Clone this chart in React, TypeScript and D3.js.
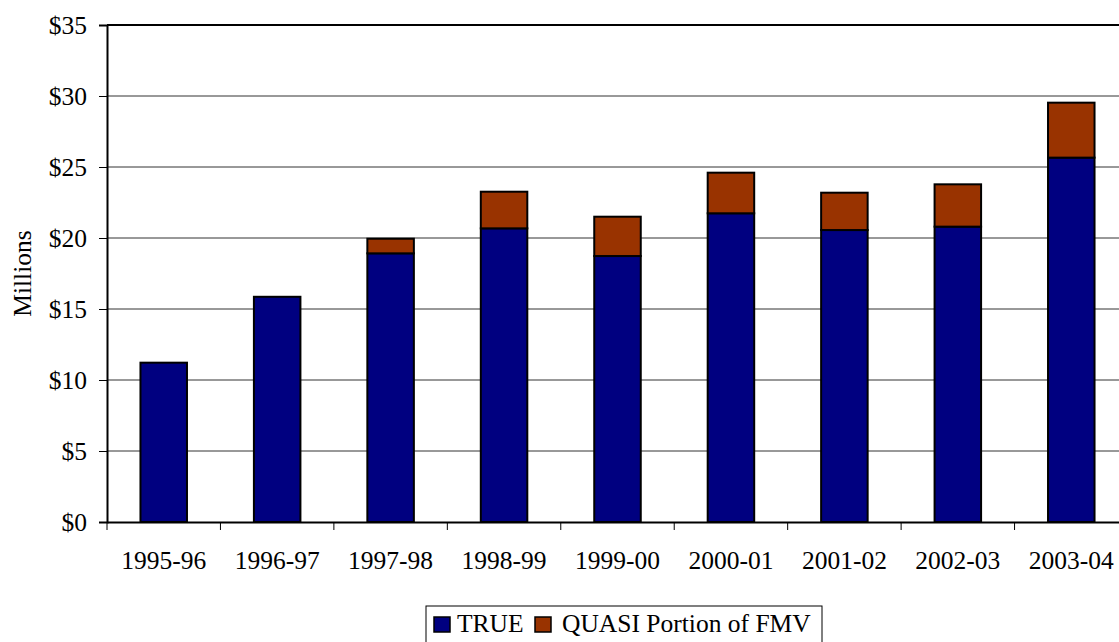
import React from "react";
import * as d3 from "d3";

const years = ["1995-96", "1996-97", "1997-98", "1998-99", "1999-00", "2000-01", "2001-02", "2002-03", "2003-04"];
const trueVals = [11.22, 15.86, 18.92, 20.68, 18.73, 21.74, 20.56, 20.8, 25.66];
const quasiVals = [0, 0, 1.03, 2.58, 2.77, 2.86, 2.63, 2.98, 3.87];
const yTicks = [0, 5, 10, 15, 20, 25, 30, 35];
const seriesNames = ["TRUE", "QUASI Portion of FMV"];
const colors = ["#000080", "#993300"];

const W = 1119;
const H = 642;
const margin = { top: 25, left: 107, bottom: 522 };
const plotRight = 1128;
const font = "Liberation Serif, DejaVu Serif, serif";
const fs = "25.5px";

export default function App() {
  const svgRef = React.useRef<SVGSVGElement>(null);

  React.useEffect(() => {
    const svg = d3.select(svgRef.current);
    svg.selectAll("*").remove();

    const y = d3.scaleLinear().domain([0, 35]).range([margin.bottom, margin.top]);

    const band = d3.scaleBand().domain(years).range([margin.left, plotRight]).paddingInner(0).paddingOuter(0);
    const bars = d3.scaleBand().domain(years).range([margin.left, plotRight]).paddingInner(0.59).paddingOuter(0.295);

    const rows = years.map((yr, i) => ({ year: yr, TRUE: trueVals[i], QUASI: quasiVals[i] }));
    const stacked = d3.stack<any>().keys(["TRUE", "QUASI"])(rows);

    // gridlines
    svg.append("g")
      .selectAll("line")
      .data(yTicks.filter(t => t > 0 && t < 35))
      .join("line")
      .attr("x1", margin.left)
      .attr("x2", plotRight)
      .attr("y1", d => y(d))
      .attr("y2", d => y(d))
      .attr("stroke", "#333")
      .attr("stroke-width", 1);

    // top border
    svg.append("line")
      .attr("x1", margin.left).attr("x2", plotRight)
      .attr("y1", y(35)).attr("y2", y(35))
      .attr("stroke", "#000").attr("stroke-width", 2);

    // bars
    stacked.forEach((s, si) => {
      svg.append("g")
        .selectAll("rect")
        .data(s.filter(d => d[1] - d[0] > 0))
        .join("rect")
        .attr("x", d => bars(d.data.year)!)
        .attr("width", bars.bandwidth())
        .attr("y", d => y(d[1]))
        .attr("height", d => y(d[0]) - y(d[1]))
        .attr("fill", colors[si])
        .attr("stroke", "#000")
        .attr("stroke-width", 2);
    });

    // y axis
    const yAxis = svg.append("g")
      .attr("transform", `translate(${margin.left},0)`)
      .call(d3.axisLeft(y).tickValues(yTicks).tickFormat(d => `$${d}`).tickSize(8).tickPadding(12));
    yAxis.attr("font-family", null).attr("font-size", null);
    yAxis.select(".domain").attr("stroke-width", 2);
    yAxis.selectAll(".tick line").attr("stroke-width", 1);
    yAxis.selectAll("text").style("font-family", font).style("font-size", fs).attr("fill", "#000");

    // x axis
    const xAxis = svg.append("g")
      .attr("transform", `translate(0,${y(0)})`)
      .call(d3.axisBottom(band).tickSize(0).tickPadding(29));
    xAxis.attr("font-family", null).attr("font-size", null);
    xAxis.select(".domain").attr("stroke-width", 2);
    xAxis.selectAll("text").style("font-family", font).style("font-size", fs).attr("fill", "#000");

    svg.append("g")
      .selectAll("line")
      .data(years.map(yr => band(yr)!))
      .join("line")
      .attr("x1", d => d).attr("x2", d => d)
      .attr("y1", y(0)).attr("y2", y(0) + 8)
      .attr("stroke", "#000");

    // y label
    svg.append("text")
      .attr("transform", `translate(31,${(y(0) + y(35)) / 2}) rotate(-90)`)
      .attr("text-anchor", "middle")
      .style("font-family", font)
      .style("font-size", fs)
      .text("Millions");

    // legend
    const lg = svg.append("g").attr("transform", "translate(426,606)");
    lg.append("rect")
      .attr("width", 396).attr("height", 50)
      .attr("fill", "#fff").attr("stroke", "#000").attr("stroke-width", 1);
    const swatchX = [8, 109];
    const textX = [31, 136];
    seriesNames.forEach((name, i) => {
      lg.append("rect")
        .attr("x", swatchX[i]).attr("y", 11)
        .attr("width", 16).attr("height", 15)
        .attr("fill", colors[i]).attr("stroke", "#000").attr("stroke-width", 1.5);
      lg.append("text")
        .attr("x", textX[i]).attr("y", 26)
        .style("font-family", font)
        .style("font-size", fs)
        .text(name);
    });
  }, []);

  return (
    <svg
      ref={svgRef}
      width={W}
      height={H}
      style={{ position: "absolute", left: 0, top: 0, background: "#fff" }}
    />
  );
}
